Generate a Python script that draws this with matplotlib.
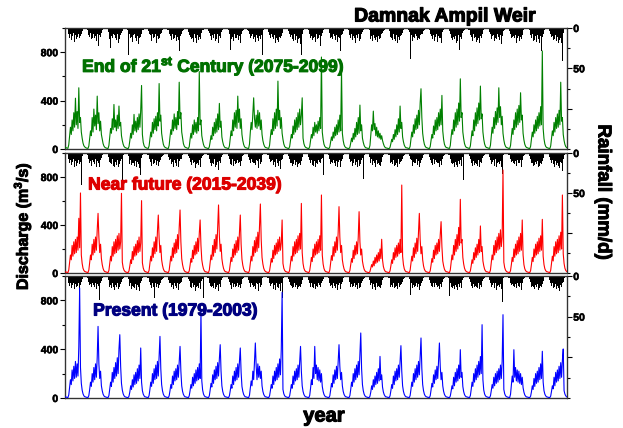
import numpy as np
import matplotlib
matplotlib.use("Agg")
import matplotlib.pyplot as plt
import matplotlib.patheffects as pe
from matplotlib.ticker import MultipleLocator, FixedLocator

plt.rcParams['font.family'] = ['Liberation Sans', 'DejaVu Sans']
plt.rcParams['mathtext.fontset'] = 'custom'
plt.rcParams['mathtext.rm'] = 'Liberation Sans'
plt.rcParams['mathtext.bf'] = 'Liberation Sans:bold'

# ---------------- data (half-monthly values, 24 per year, 25 years) ----------------
title = "Damnak Ampil Weir"
panel_labels = ["End of 21$^{\\mathbf{st}}$ Century (2075-2099)",
                "Near future (2015-2039)",
                "Present (1979-2003)"]
panel_colors = ["#008000", "#ff0000", "#0000ff"]
label_colors = ["#007000", "#dd0000", "#000080"]

# Discharge (m3/s)
q_end = [
    [15,10,7,6,35,110,180,120,240,150,300,180,420,200,310,170,506,220,260,140,90,50,28,18],
    [12,8,6,5,25,90,150,110,260,140,330,190,280,160,437,210,300,150,230,120,80,45,25,15],
    [10,7,5,5,30,100,170,130,250,160,368,180,240,150,280,170,355,190,220,110,70,40,22,14],
    [10,7,5,4,20,70,130,90,200,120,286,150,230,140,260,160,290,180,320,525,120,55,28,16],
    [12,8,6,5,25,85,140,100,220,130,250,160,270,150,300,190,541,230,280,130,80,40,22,14],
    [10,7,5,5,30,100,160,120,240,150,290,170,260,160,310,200,552,250,300,140,90,45,25,15],
    [12,8,6,5,20,80,130,90,200,120,240,140,220,130,260,150,640,200,240,110,70,38,20,12],
    [10,7,5,4,18,60,110,80,180,110,220,130,250,140,290,160,377,180,230,100,60,32,18,11],
    [10,7,5,4,25,90,150,110,240,150,300,180,320,170,437,220,330,170,250,120,70,38,20,12],
    [10,7,5,5,40,140,220,160,300,423,250,180,280,170,320,190,300,160,240,120,70,40,22,13],
    [11,8,6,5,30,100,160,120,250,150,300,170,330,190,561,240,320,170,260,130,80,42,22,13],
    [10,7,5,4,20,70,120,90,190,120,240,140,260,160,300,180,330,200,280,423,90,45,24,14],
    [10,7,5,4,20,70,120,90,180,110,220,140,200,130,230,150,260,170,760,140,80,40,22,13],
    [10,7,5,4,18,60,100,70,140,90,180,110,200,120,240,140,280,150,650,130,70,36,20,12],
    [9,6,5,4,15,50,90,60,130,80,170,100,220,120,260,130,363,150,200,90,55,30,17,10],
    [9,6,5,4,30,120,200,150,313,160,210,110,180,100,150,90,130,80,110,70,45,25,14,9],
    [8,6,4,4,15,45,80,60,120,80,160,100,200,120,250,140,355,170,220,100,60,32,18,10],
    [10,7,5,4,22,80,140,100,200,130,250,160,280,170,320,200,380,498,260,130,75,40,22,13],
    [10,7,5,4,20,70,120,90,190,120,240,150,260,160,300,190,330,200,443,150,80,40,22,13],
    [11,8,6,5,28,100,160,120,240,150,300,180,330,200,380,230,580,260,300,140,85,45,24,14],
    [11,8,6,5,25,90,150,110,240,150,300,190,340,210,380,240,520,250,290,140,80,42,22,13],
    [11,8,6,5,30,110,180,130,260,170,310,200,340,220,506,260,350,200,270,130,75,40,22,13],
    [10,7,5,5,28,100,170,120,240,160,300,180,330,200,360,220,465,240,280,130,75,40,22,13],
    [10,7,5,4,22,80,140,100,200,130,240,150,270,170,300,190,350,200,810,170,85,42,22,13],
    [10,7,5,4,25,90,150,110,220,140,260,170,290,180,320,200,552,230,260,120,70,38,20,12],
]
q_near = [
    [10,7,5,4,25,90,150,110,230,140,260,160,280,170,300,190,456,210,667,150,80,40,22,13],
    [10,7,5,4,25,90,150,110,240,150,280,170,300,190,360,497,300,170,240,120,70,38,20,12],
    [10,7,5,4,22,80,140,100,220,140,260,160,280,170,310,190,330,200,260,664,90,45,24,14],
    [9,6,5,4,18,60,110,80,180,110,220,140,240,150,270,170,300,180,250,603,85,42,22,13],
    [10,7,5,4,22,80,140,100,210,130,260,160,300,180,350,483,290,170,230,110,65,35,19,11],
    [10,7,5,4,22,80,140,100,210,130,250,160,280,170,320,200,380,525,260,120,70,38,20,12],
    [9,6,5,4,18,65,120,90,190,120,230,150,260,160,290,180,330,442,230,110,65,35,19,11],
    [10,7,5,4,25,90,150,110,230,140,280,170,320,200,380,567,310,180,240,120,70,38,20,12],
    [10,7,5,4,20,75,130,95,200,130,240,150,270,170,300,190,340,483,240,115,65,35,19,11],
    [10,7,5,4,22,80,140,100,220,140,270,170,300,180,340,210,400,575,280,130,75,40,22,13],
    [9,6,5,4,18,65,120,90,190,120,230,150,250,160,280,180,300,190,250,442,80,40,22,13],
    [10,7,5,4,22,80,140,100,220,140,260,160,280,170,310,190,330,200,580,170,80,40,22,13],
    [10,7,5,4,20,70,130,95,200,130,240,150,260,160,280,170,310,190,650,150,75,38,20,12],
    [10,7,5,4,24,85,145,105,220,140,260,170,300,190,340,553,300,170,230,110,65,35,19,11],
    [9,6,5,4,20,70,120,90,190,120,230,150,260,160,300,511,260,150,200,100,60,32,18,11],
    [8,6,4,4,12,40,70,50,100,60,130,80,150,90,170,100,200,120,281,110,55,30,16,10],
    [9,6,5,4,18,60,110,80,170,110,210,130,230,140,250,160,280,170,733,140,70,35,19,11],
    [10,7,5,4,22,80,140,100,210,130,250,160,290,180,330,497,280,160,220,110,60,32,18,11],
    [9,6,5,4,18,65,120,90,190,120,230,150,250,160,280,180,320,428,220,100,60,32,18,11],
    [10,7,5,4,24,85,150,110,230,150,280,180,320,200,380,230,614,250,280,130,75,40,22,13],
    [9,6,5,4,18,60,110,80,170,110,210,130,240,150,280,170,392,180,220,100,60,32,18,11],
    [10,7,5,4,24,85,150,110,230,150,270,170,300,190,330,200,360,220,300,858,90,45,24,14],
    [9,6,5,4,20,70,130,95,200,130,240,150,270,160,300,180,330,190,442,150,70,36,20,12],
    [9,6,5,4,20,70,130,95,200,130,240,150,260,160,290,180,310,190,447,140,70,36,20,12],
    [10,7,5,4,22,80,140,100,220,140,260,160,280,170,310,190,340,200,650,160,80,40,22,13],
]
q_pres = [
    [10,7,5,4,25,90,150,110,230,140,260,160,300,170,280,180,420,901,250,120,65,35,19,11],
    [9,6,5,4,20,70,130,95,200,130,250,150,280,170,330,587,280,160,220,100,60,32,18,11],
    [9,6,5,4,20,75,130,95,210,130,250,160,290,180,330,200,400,519,260,120,65,35,19,11],
    [8,6,4,4,15,50,100,70,150,90,190,110,210,120,240,140,270,160,410,130,60,32,18,10],
    [9,6,5,4,20,70,130,95,200,120,240,150,270,160,300,180,350,505,240,110,60,32,18,11],
    [9,6,5,4,18,60,110,80,180,110,220,140,240,150,270,170,300,423,220,100,55,30,17,10],
    [9,6,5,4,18,60,110,80,170,100,200,120,230,140,250,150,280,160,710,140,65,33,18,11],
    [9,6,5,4,18,65,120,90,190,120,230,150,260,160,290,180,320,437,220,100,55,30,17,10],
    [9,6,5,4,18,60,110,80,180,110,220,140,250,150,280,170,300,410,210,95,55,30,17,10],
    [9,6,5,4,22,80,140,100,220,150,300,451,260,150,280,170,260,160,220,100,55,30,17,10],
    [9,6,5,4,18,60,110,80,180,110,220,140,250,150,280,170,320,190,400,866,70,35,19,11],
    [9,6,5,4,18,60,110,80,180,110,220,140,240,150,270,170,300,423,220,100,55,30,17,10],
    [9,6,5,4,22,80,150,110,250,160,423,200,270,150,250,140,230,130,200,95,55,30,17,10],
    [9,6,5,4,18,65,120,90,190,120,230,150,260,160,300,437,260,150,210,100,55,30,17,10],
    [9,6,5,4,20,70,130,95,200,130,240,150,270,170,300,190,360,533,240,110,60,32,18,11],
    [8,6,4,4,15,50,100,70,150,90,180,110,210,120,240,140,341,150,190,90,50,28,16,9],
    [9,6,5,4,18,60,110,80,180,110,220,140,240,150,270,170,300,429,220,100,55,30,17,10],
    [9,6,5,4,20,70,130,95,200,130,240,150,270,170,300,190,340,492,240,110,60,32,18,11],
    [9,6,5,4,18,65,120,90,190,120,230,150,260,160,300,451,260,150,210,100,55,30,17,10],
    [8,6,4,4,16,55,100,75,170,100,210,130,240,140,270,160,396,170,210,95,52,28,16,10],
    [9,6,5,4,20,70,130,95,200,130,240,150,270,170,300,190,340,200,601,150,65,33,18,11],
    [9,6,5,4,18,60,110,80,170,100,200,120,220,130,240,150,270,160,300,683,70,35,19,11],
    [9,6,5,4,30,110,180,130,396,170,250,140,230,130,220,120,200,110,170,85,48,26,15,9],
    [8,6,4,4,15,50,100,70,160,95,200,120,220,130,250,150,280,160,383,130,60,32,18,10],
    [8,6,4,4,16,55,100,75,170,100,210,130,230,140,260,160,290,170,310,402,60,32,18,10],
]

# Rainfall (mm/d)
r_end = [
    [0,1,0,3,7,12,8,15,10,13,6,17,9,14,11,19,8,13,10,7,4,2,1,0],
    [1,0,2,4,9,11,6,14,12,18,8,13,10,16,7,12,22,9,11,6,3,2,0,1],
    [0,0,1,5,8,14,25,10,13,7,16,9,12,15,8,18,10,14,9,6,4,1,0,0],
    [1,0,2,34,10,8,13,11,17,9,14,8,12,16,10,20,9,13,11,7,3,2,1,0],
    [0,1,1,4,7,12,9,16,8,13,11,15,7,18,10,14,12,17,8,6,3,1,0,0],
    [0,0,2,3,8,13,10,15,7,14,12,18,9,16,11,15,29,12,10,7,4,2,1,0],
    [1,0,1,5,9,11,7,14,12,17,8,13,10,19,9,15,11,14,8,6,3,2,0,0],
    [0,1,0,4,6,10,12,15,9,13,8,16,11,14,7,18,10,13,9,5,3,1,1,0],
    [0,0,1,3,8,27,9,14,11,16,8,13,12,17,9,15,10,19,8,6,4,2,0,1],
    [1,0,2,4,7,12,10,15,8,14,11,17,9,13,12,16,10,14,9,8,33,2,1,0],
    [0,1,1,5,9,13,8,16,11,14,9,18,12,15,8,17,11,13,10,6,3,1,0,0],
    [0,0,2,4,7,11,9,14,12,16,8,15,10,18,9,14,12,20,34,7,4,2,1,0],
    [1,0,1,3,8,12,10,15,9,13,11,17,8,14,12,16,9,22,10,6,3,1,0,0],
    [0,1,0,4,6,13,11,14,8,16,10,15,9,17,11,13,12,29,9,7,4,2,1,0],
    [0,0,2,5,9,12,8,15,10,14,12,18,9,13,8,16,10,14,8,5,3,1,0,1],
    [1,0,1,3,7,14,10,16,9,13,8,15,11,17,10,14,9,13,7,6,4,2,1,0],
    [0,1,1,4,8,11,12,15,8,14,10,16,9,18,11,15,10,14,9,6,3,1,0,0],
    [0,0,2,5,39,12,9,16,11,13,8,17,10,15,12,14,9,18,8,7,4,2,1,0],
    [1,0,1,3,7,13,10,14,9,16,11,15,8,17,10,13,12,19,9,5,3,1,0,0],
    [0,1,0,4,8,12,9,15,11,14,10,18,12,16,9,27,11,14,10,6,4,2,1,0],
    [0,0,2,3,9,11,12,16,8,13,11,17,9,15,12,18,10,13,8,7,3,1,0,1],
    [1,0,1,5,7,14,10,15,9,16,12,14,8,17,11,15,9,20,10,6,4,2,1,0],
    [0,1,1,4,8,12,11,14,10,13,9,18,12,15,10,16,11,14,9,5,3,1,0,0],
    [0,0,2,3,9,13,8,16,11,15,10,17,9,14,12,19,10,29,11,7,4,2,1,0],
    [1,0,1,4,7,11,10,15,12,14,9,16,11,18,10,15,12,19,41,6,3,1,0,0],
]
r_near = [
    [0,1,0,4,8,12,9,15,11,14,8,17,10,16,12,18,9,14,11,40,4,2,1,0],
    [1,0,2,3,7,13,10,16,9,15,11,14,8,18,10,13,12,17,9,6,3,1,0,0],
    [0,0,1,5,9,11,12,14,8,16,10,18,11,15,9,17,12,14,10,7,36,2,1,0],
    [0,1,1,4,8,14,9,15,12,13,9,16,10,17,11,14,8,19,27,6,3,1,0,1],
    [1,0,2,3,7,12,11,16,8,14,12,18,9,15,10,16,11,13,9,5,4,2,1,0],
    [0,0,1,5,9,13,8,14,11,17,9,15,12,16,8,18,10,14,8,7,3,1,0,0],
    [0,1,0,4,6,11,10,15,9,13,11,19,8,14,12,15,9,17,10,6,4,2,1,0],
    [1,0,2,3,8,12,9,16,12,14,8,17,10,15,11,21,10,13,9,5,3,1,0,0],
    [0,0,1,4,7,14,11,15,8,16,10,14,12,18,9,13,11,16,10,7,4,2,1,0],
    [0,1,1,5,9,12,8,17,11,13,12,15,9,16,10,19,8,14,11,6,3,1,0,1],
    [1,0,2,3,8,11,10,14,9,15,11,18,8,13,12,16,10,20,9,7,4,2,1,0],
    [0,0,1,4,7,13,12,16,10,14,9,15,11,17,8,14,12,15,10,5,3,1,0,0],
    [0,1,0,5,9,12,9,15,11,16,10,17,12,14,9,18,11,13,8,6,27,2,1,0],
    [1,0,2,3,8,14,11,13,9,15,12,16,10,18,11,13,9,17,10,7,3,1,0,0],
    [0,0,1,4,7,11,10,16,12,14,8,15,11,17,9,16,10,14,9,6,32,2,1,0],
    [0,1,1,5,9,13,8,15,10,13,11,18,9,14,12,15,8,16,11,5,3,1,0,1],
    [1,0,2,3,8,12,11,14,9,16,10,15,12,17,8,14,11,13,10,7,4,2,1,0],
    [0,0,1,4,7,14,9,16,11,13,12,17,8,15,10,18,12,14,9,6,3,1,0,0],
    [0,1,0,5,9,11,12,15,8,14,9,16,11,13,12,17,10,15,8,7,4,2,1,0],
    [1,0,2,3,8,13,10,14,12,17,11,15,9,18,10,14,9,16,11,5,34,1,0,0],
    [0,0,1,4,7,12,9,16,10,15,12,14,10,16,9,17,11,13,10,6,4,2,1,0],
    [0,1,1,5,9,14,11,13,9,16,8,18,12,15,11,14,10,17,26,7,3,1,0,1],
    [1,0,2,3,8,11,10,15,12,14,10,16,9,17,12,13,9,18,9,5,4,2,1,0],
    [0,0,1,4,7,13,12,16,8,15,11,14,10,18,9,16,12,14,10,6,3,1,0,0],
    [0,1,0,5,9,12,9,14,11,17,10,15,12,16,10,19,11,13,23,7,4,2,1,0],
]
r_pres = [
    [0,1,0,4,8,12,9,15,11,13,8,16,10,14,12,17,9,42,11,7,4,2,1,0],
    [1,0,2,3,7,11,10,14,9,15,11,13,8,16,10,14,12,29,9,6,3,1,0,0],
    [0,0,1,5,9,13,11,15,8,14,10,17,11,13,9,16,11,14,10,7,4,2,1,0],
    [0,1,1,4,8,12,9,16,12,13,9,15,10,17,11,14,8,18,9,6,3,1,0,1],
    [1,0,2,3,7,14,11,15,8,13,27,16,9,14,10,15,11,13,9,5,4,2,1,0],
    [0,0,1,5,9,11,8,14,11,16,9,14,12,15,8,17,10,13,8,7,3,1,0,0],
    [0,1,0,4,6,13,10,15,9,14,11,18,8,13,12,15,9,16,10,6,4,27,1,0],
    [1,0,2,3,8,12,9,14,12,15,8,16,10,14,11,19,10,13,9,5,3,1,0,0],
    [0,0,1,4,7,11,11,16,8,14,10,13,12,17,9,14,11,15,10,7,4,2,1,0],
    [0,1,1,5,9,13,8,15,11,13,12,16,9,15,10,18,8,13,11,6,3,1,0,1],
    [1,0,2,3,8,12,10,13,9,16,11,17,8,14,12,15,10,19,9,27,4,2,1,0],
    [0,0,1,4,7,11,12,15,10,13,9,14,11,16,8,13,12,14,10,5,3,1,0,0],
    [0,1,0,5,9,13,9,14,11,15,10,16,12,13,9,17,11,14,8,6,4,2,1,0],
    [1,0,2,3,8,12,11,15,9,14,12,15,10,17,11,14,9,16,10,7,3,1,0,0],
    [0,0,1,4,7,14,10,14,12,16,8,14,11,16,9,15,10,13,9,6,4,2,1,0],
    [0,1,1,5,9,11,8,16,10,13,11,17,9,13,12,14,8,15,11,5,3,1,0,1],
    [1,0,2,3,8,13,11,13,9,15,10,14,12,16,8,13,11,14,10,7,4,2,1,0],
    [0,0,1,4,23,12,9,15,11,14,12,16,8,14,10,17,12,13,9,6,3,1,0,0],
    [0,1,0,5,9,11,12,14,8,13,9,15,11,14,12,16,10,14,8,7,4,2,1,0],
    [1,0,2,25,8,13,10,15,12,16,11,14,9,17,10,13,9,15,11,5,3,1,0,0],
    [0,0,1,4,7,12,9,15,10,14,12,13,10,15,9,16,11,14,10,6,4,2,1,0],
    [0,1,1,5,9,13,11,14,9,15,8,17,12,14,11,13,10,16,32,7,3,1,0,1],
    [1,0,2,3,8,11,10,16,12,13,10,15,9,16,12,14,9,17,9,5,4,2,1,0],
    [0,0,1,4,7,13,12,14,8,16,11,13,10,17,9,15,12,13,10,6,3,1,0,0],
    [0,1,0,5,9,12,9,15,11,14,10,16,12,15,10,18,11,14,9,7,25,2,1,0],
]

q_ticks = [0, 400, 800]
r_ticks = [0, 50, 100]
r_tick_labels = ['0', '50', '']

# ---------------- figure ----------------
W, H = 623, 428
fig = plt.figure(figsize=(W/100, H/100), dpi=100)

def fx(px): return px / W
def fy(py): return 1 - py / H

def heavy(color, w=0.7):
    return [pe.withStroke(linewidth=w, foreground=color)]

panels = [  # (top px, bottom px)
    (28, 149), (153, 273), (276, 398)
]
q_all = [q_end, q_near, q_pres]
r_all = [r_end, r_near, r_pres]
label_pos = [(0.034, 0.686), (0.046, 0.733), (0.056, 0.713)]

left_px, right_px = 65, 567
for i, (top, bot) in enumerate(panels):
    ax = fig.add_axes([fx(left_px), fy(bot), fx(right_px - left_px), (bot - top) / H])
    q = np.array(q_all[i], dtype=float).ravel()
    r = np.array(r_all[i], dtype=float).ravel()
    n = q.size
    t = (np.arange(n) + 0.5) / 24.0
    ax.plot(t, q, color=panel_colors[i], lw=0.8, zorder=3)
    ax.set_xlim(0, 25)
    ax.set_ylim(0, 1000)
    ax.set_xticks([])
    ax.yaxis.set_major_locator(FixedLocator(q_ticks))
    ax.yaxis.set_minor_locator(MultipleLocator(200))
    ax.tick_params(axis='y', which='major', direction='out', length=3.5, width=0.8,
                   labelsize=7.5, pad=1.5)
    ax.tick_params(axis='y', which='minor', direction='out', length=2, width=0.8)
    for lab in ax.get_yticklabels():
        lab.set_fontweight('bold')
        lab.set_path_effects(heavy('black', 0.4))
    for s in ax.spines.values():
        s.set_linewidth(0.9)
        s.set_color('#333333')

    ax2 = ax.twinx()
    ax2.bar(np.arange(r.size) / 24.0, r, width=1/24.0, align='edge',
            color='black', edgecolor='none', linewidth=0, zorder=2)
    ax2.set_ylim(150, 0)
    ax2.yaxis.set_major_locator(FixedLocator(r_ticks))
    ax2.set_yticklabels(r_tick_labels)
    ax2.yaxis.set_minor_locator(MultipleLocator(25))
    ax2.tick_params(axis='y', which='major', direction='out', length=3.5, width=0.8,
                    labelsize=7.5, pad=1.0)
    ax2.tick_params(axis='y', which='minor', direction='out', length=2, width=0.8)
    for lab in ax2.get_yticklabels():
        lab.set_fontweight('bold')
        lab.set_path_effects(heavy('black', 0.4))
    ax2.set_xlim(0, 25)
    ax.set_zorder(ax2.get_zorder() + 1)
    ax.patch.set_visible(False)

    ax.text(label_pos[i][0], label_pos[i][1], panel_labels[i], transform=ax.transAxes,
            color=label_colors[i], fontsize=12.6, fontweight='bold', ha='left', va='center',
            zorder=5, path_effects=heavy(label_colors[i], 0.8))

fig.text(fx(445), fy(17), title, fontsize=14, fontweight='bold', ha='center', va='center',
         path_effects=heavy('black', 0.8))
fig.text(fx(22), fy(226), 'Discharge (m$^{\\mathbf{3}}$/s)', rotation=90, fontsize=11.5,
         fontweight='bold', ha='center', va='center', path_effects=heavy('black', 0.7))
fig.text(fx(603), fy(192), 'Rainfall (mm/d)', rotation=270, fontsize=13.5,
         fontweight='bold', ha='center', va='center', path_effects=heavy('black', 0.7))
fig.text(fx(324), fy(416), 'year', fontsize=14.5, fontweight='bold', ha='center', va='center',
         path_effects=heavy('black', 0.8))

fig.savefig('out.png', dpi=100)
